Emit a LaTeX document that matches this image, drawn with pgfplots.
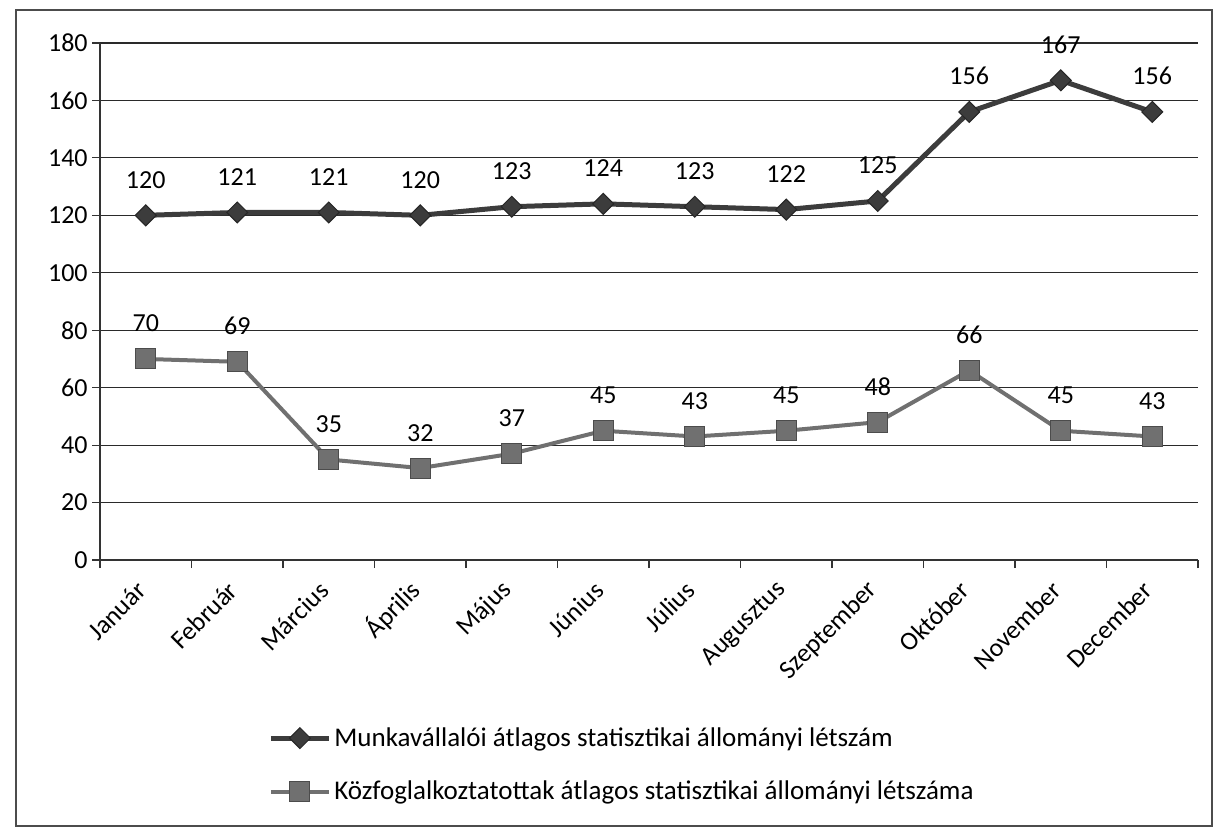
\documentclass[border=0pt]{standalone}
\usepackage{pgfplots}
\pgfplotsset{compat=1.18}
\usepackage{fontspec}
\setmainfont{Carlito}
\definecolor{serA}{HTML}{3C3C3C}
\definecolor{serB}{HTML}{707070}
\definecolor{gridc}{HTML}{2A2A2A}
\newcommand{\chartfont}{\fontsize{13}{15.6}\selectfont}
\newcommand{\legfont}{\fontsize{13.5}{16}\selectfont}
\begin{document}
\begin{tikzpicture}
\useasboundingbox (0,0) rectangle (613.5pt,418pt);
\draw[black!70, line width=0.6pt] (8pt,5pt) rectangle (606pt,413pt);
\begin{axis}[
    at={(50pt,138pt)}, anchor=south west,
    scale only axis, width=549pt, height=258.5pt,
    xmin=-0.5, xmax=11.5, ymin=0, ymax=180,
    ytick={0,20,...,180},
    xtick={-0.5,0.5,...,11.5}, xticklabels={},
    extra x ticks={0,1,2,3,4,5,6,7,8,9,10,11},
    extra x tick labels={Január,Február,Március,Április,Május,Június,Július,Augusztus,Szeptember,Október,November,December},
    extra x tick style={major tick length=0pt},
    axis x line*=bottom, axis y line*=left,
    axis line style={-, line width=0.8pt, black!80},
    ymajorgrids, grid style={line width=0.6pt, gridc},
    tick align=outside, major tick length=4pt,
    tick style={black!80, line width=0.6pt},
    /pgf/number format/assume math mode=true,
    ticklabel style={font=\chartfont},
    yticklabel style={inner xsep=2pt},
    xticklabel style={yshift=-13pt, xshift=-2pt, anchor=east, inner sep=0pt, rotate=45},
    legend style={at={(0.153,-0.315)}, anchor=north west, draw=none, fill=none,
        font=\legfont, row sep=12pt, inner sep=0pt, nodes={inner xsep=1.5pt}},
    legend cell align=left,
    legend image code/.code={\draw[mark repeat=2,mark phase=2] plot coordinates {(0pt,0pt) (14.5pt,0pt) (29pt,0pt)};},
    nodes near coords,
    every node near coord/.append style={anchor=base, yshift=13.5pt, text=black, font=\chartfont},
]
    \addplot[serA, line width=2.5pt, mark=square*, mark size=3.7pt,
        mark options={rotate=45, line width=0.5pt, fill=serA, draw=black!85}]
        coordinates {
            (0,120) (1,121) (2,121) (3,120) (4,123) (5,124)
            (6,123) (7,122) (8,125) (9,156) (10,167) (11,156)
        };
    \addlegendentry{Munkavállalói átlagos statisztikai állományi létszám}
    \addplot[serB, line width=2pt, mark=square*, mark size=5pt,
        mark options={line width=0.5pt, fill=serB, draw=black!70}]
        coordinates {
            (0,70) (1,69) (2,35) (3,32) (4,37) (5,45)
            (6,43) (7,45) (8,48) (9,66) (10,45) (11,43)
        };
    \addlegendentry{Közfoglalkoztatottak átlagos statisztikai állományi létszáma}
\end{axis}
\end{tikzpicture}
\end{document}
